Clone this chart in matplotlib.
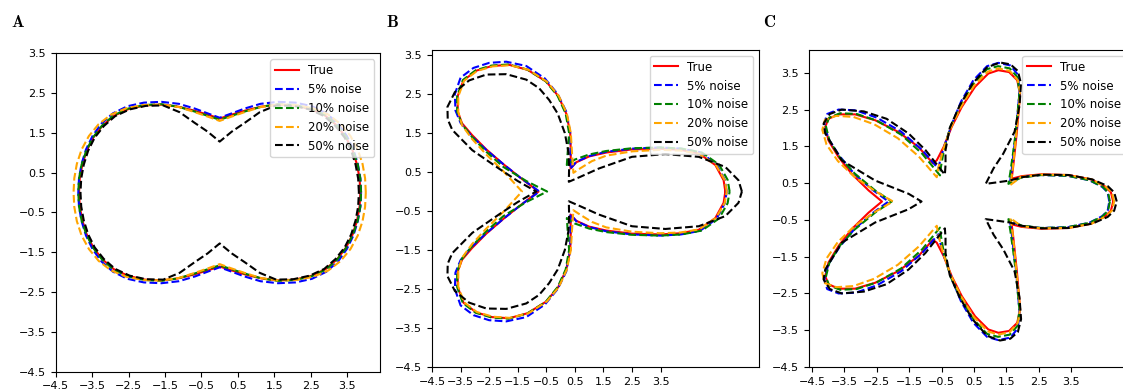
import numpy as np
import matplotlib.pyplot as plt

labels = ["True", "5% noise", "10% noise", "20% noise", "50% noise"]
colors = ["red", "blue", "green", "orange", "black"]
styles = ["-", "--", "--", "--", "--"]

# panel A: upper-right quarter of each curve, from the right end to the top dip
a_true_x = [3.86, 3.84, 3.77, 3.65, 3.47, 3.22, 2.90, 2.50, 2.05, 1.60, 1.15, 0.70, 0.30, 0.00]
a_true_y = [0.00, 0.35, 0.70, 1.05, 1.38, 1.68, 1.93, 2.10, 2.19, 2.21, 2.16, 2.06, 1.95, 1.86]
a_5_x = [3.88, 3.86, 3.79, 3.67, 3.49, 3.25, 2.93, 2.53, 2.08, 1.60, 1.12, 0.68, 0.30, 0.00]
a_5_y = [0.00, 0.36, 0.72, 1.08, 1.42, 1.73, 1.99, 2.17, 2.26, 2.28, 2.23, 2.11, 1.98, 1.88]
a_10_x = [3.88, 3.86, 3.79, 3.66, 3.48, 3.23, 2.91, 2.51, 2.06, 1.60, 1.15, 0.70, 0.30, 0.00]
a_10_y = [0.00, 0.35, 0.70, 1.05, 1.38, 1.68, 1.94, 2.11, 2.20, 2.22, 2.16, 2.04, 1.92, 1.83]
a_20_x = [4.01, 3.99, 3.92, 3.79, 3.59, 3.32, 2.98, 2.56, 2.09, 1.60, 1.13, 0.68, 0.30, 0.00]
a_20_y = [0.00, 0.36, 0.72, 1.08, 1.42, 1.72, 1.96, 2.12, 2.20, 2.21, 2.15, 2.02, 1.90, 1.80]
a_50_x = [3.82, 3.80, 3.73, 3.61, 3.43, 3.18, 2.87, 2.47, 2.02, 1.55, 1.10, 0.70, 0.33, 0.00]
a_50_y = [0.00, 0.35, 0.70, 1.05, 1.38, 1.67, 1.92, 2.09, 2.18, 2.19, 2.02, 1.76, 1.53, 1.28]

# panel B: upper half, from the right tip round to the left cusp
b_true_x = [5.77, 5.71, 5.42, 4.84, 4.20, 3.50, 2.50, 1.60, 1.00, 0.55, 0.35, 0.36, 0.34, 0.20, -0.08,
            -0.50, -1.15, -1.80, -2.40, -2.95, -3.40, -3.60, -3.60, -3.45, -3.10, -2.60, -2.00, -1.40, -0.77]
b_true_y = [0.00, 0.29, 0.68, 0.98, 1.07, 1.10, 1.08, 1.00, 0.90, 0.75, 0.59, 1.00, 1.50, 2.00, 2.45,
            2.82, 3.12, 3.25, 3.22, 3.10, 2.85, 2.45, 2.05, 1.75, 1.45, 1.08, 0.70, 0.35, 0.00]
b_5_x = [5.82, 5.75, 5.46, 4.88, 4.22, 3.50, 2.50, 1.60, 1.00, 0.55, 0.34, 0.35, 0.34, 0.20, -0.10,
         -0.55, -1.20, -1.90, -2.50, -3.05, -3.50, -3.70, -3.68, -3.50, -3.15, -2.62, -2.00, -1.40, -0.74]
b_5_y = [0.00, 0.30, 0.70, 1.01, 1.10, 1.13, 1.10, 1.02, 0.91, 0.76, 0.58, 1.00, 1.50, 2.05, 2.50,
         2.90, 3.22, 3.33, 3.30, 3.17, 2.92, 2.50, 2.08, 1.76, 1.45, 1.08, 0.70, 0.35, 0.00]
b_10_x = [5.92, 5.85, 5.55, 4.95, 4.25, 3.50, 2.50, 1.60, 1.00, 0.50, 0.22, 0.25, 0.30, 0.18, -0.10,
          -0.52, -1.17, -1.82, -2.42, -2.97, -3.42, -3.62, -3.62, -3.45, -3.10, -2.60, -2.00, -1.20, -0.47]
b_10_y = [0.00, 0.30, 0.69, 1.00, 1.10, 1.13, 1.11, 1.04, 0.95, 0.82, 0.68, 1.00, 1.50, 2.00, 2.45,
          2.83, 3.13, 3.26, 3.23, 3.11, 2.86, 2.45, 2.05, 1.72, 1.40, 1.02, 0.63, 0.27, 0.00]
b_20_x = [5.82, 5.75, 5.45, 4.86, 4.20, 3.50, 2.50, 1.60, 1.10, 0.70, 0.45, 0.40, 0.36, 0.22, -0.06,
          -0.48, -1.12, -1.78, -2.38, -2.93, -3.38, -3.58, -3.58, -3.45, -3.10, -2.60, -2.00, -1.35]
b_20_y = [0.00, 0.29, 0.67, 0.97, 1.05, 1.07, 1.03, 0.92, 0.78, 0.60, 0.48, 1.00, 1.50, 2.00, 2.45,
          2.82, 3.12, 3.24, 3.21, 3.09, 2.84, 2.44, 2.04, 1.70, 1.35, 0.95, 0.52, 0.00]
b_50_x = [6.35, 6.23, 5.77, 4.84, 3.67, 2.50, 1.34, 0.70, 0.29, 0.30, 0.28, 0.15, -0.10, -0.40,
          -0.75, -1.20, -1.90, -2.60, -3.20, -3.70, -3.96, -3.95, -3.79, -3.09, -2.16, -1.50, -0.85]
b_50_y = [0.00, 0.29, 0.63, 0.89, 0.96, 0.89, 0.59, 0.38, 0.25, 0.60, 1.00, 1.50, 2.00, 2.35,
          2.65, 2.87, 3.01, 3.00, 2.85, 2.55, 2.17, 1.85, 1.58, 1.06, 0.59, 0.27, 0.00]

# panel C: upper half, from the right tip round to the left cusp
c_true_x = [4.79, 4.72, 4.55, 4.12, 3.41, 2.58, 1.97, 1.66, 1.70, 1.76, 1.82, 1.87, 1.92, 1.83, 1.58, 1.25, 0.94, 0.53,
            0.12, -0.19, -0.44, -0.65, -0.77, -1.21, -1.83, -2.55, -3.17, -3.68, -3.99, -4.09, -3.99, -3.68, -3.27, -2.75, -2.34]
c_true_y = [0.00, 0.25, 0.40, 0.60, 0.72, 0.74, 0.69, 0.62, 0.90, 1.39, 1.90, 2.40, 2.94, 3.30, 3.52, 3.57, 3.48, 3.12,
            2.57, 2.03, 1.48, 1.12, 1.04, 1.48, 1.89, 2.21, 2.37, 2.37, 2.25, 2.03, 1.66, 1.21, 0.75, 0.30, 0.00]
c_5_x = [4.67, 4.62, 4.45, 4.05, 3.38, 2.55, 1.95, 1.61, 1.66, 1.72, 1.80, 1.85, 1.90, 1.85, 1.62, 1.25, 0.90, 0.48,
         0.10, -0.18, -0.40, -0.55, -0.60, -1.10, -1.75, -2.50, -3.15, -3.68, -4.03, -4.12, -4.00, -3.65, -3.20, -2.65, -2.14]
c_5_y = [0.00, 0.25, 0.40, 0.58, 0.70, 0.72, 0.66, 0.53, 0.85, 1.35, 1.90, 2.45, 3.00, 3.45, 3.70, 3.77, 3.68, 3.30,
         2.72, 2.12, 1.55, 1.10, 0.89, 1.40, 1.90, 2.28, 2.48, 2.50, 2.38, 2.13, 1.72, 1.24, 0.76, 0.33, 0.00]
c_10_x = [4.69, 4.63, 4.47, 4.06, 3.38, 2.56, 1.95, 1.56, 1.62, 1.70, 1.78, 1.84, 1.90, 1.84, 1.60, 1.24, 0.90, 0.48,
          0.08, -0.22, -0.42, -0.52, -0.55, -1.10, -1.75, -2.50, -3.12, -3.63, -3.97, -4.07, -3.96, -3.64, -3.18, -2.55, -2.04]
c_10_y = [0.00, 0.25, 0.40, 0.58, 0.70, 0.72, 0.65, 0.48, 0.80, 1.30, 1.85, 2.40, 2.95, 3.38, 3.62, 3.68, 3.60, 3.20,
          2.60, 2.05, 1.45, 0.95, 0.71, 1.30, 1.82, 2.20, 2.38, 2.40, 2.28, 2.05, 1.66, 1.20, 0.76, 0.30, 0.00]
c_20_x = [4.82, 4.75, 4.57, 4.13, 3.40, 2.57, 1.95, 1.62, 1.68, 1.74, 1.80, 1.86, 1.92, 1.85, 1.60, 1.25, 0.92, 0.50,
          0.10, -0.22, -0.45, -0.60, -0.65, -1.20, -1.85, -2.58, -3.22, -3.75, -4.10, -4.18, -4.05, -3.70, -3.20, -2.55, -2.00]
c_20_y = [0.00, 0.25, 0.40, 0.60, 0.72, 0.73, 0.67, 0.45, 0.80, 1.30, 1.85, 2.38, 2.92, 3.30, 3.55, 3.62, 3.53, 3.15,
          2.58, 2.00, 1.42, 0.92, 0.66, 1.22, 1.72, 2.10, 2.30, 2.33, 2.22, 1.95, 1.55, 1.10, 0.68, 0.28, 0.00]
c_50_x = [4.90, 4.82, 4.62, 4.15, 3.42, 2.58, 1.97, 1.60, 1.20, 0.86, 1.10, 1.40, 1.75, 1.90, 1.95, 1.85, 1.62, 1.30,
          0.90, 0.45, 0.05, -0.25, -0.38, -0.38, -0.40, -1.00, -1.52, -2.20, -2.90, -3.58, -3.95, -4.14, -4.09,
          -3.58, -2.55, -1.52, -1.12]
c_50_y = [0.00, 0.25, 0.42, 0.60, 0.72, 0.73, 0.66, 0.57, 0.52, 0.48, 0.90, 1.30, 1.90, 2.60, 3.20, 3.55, 3.73, 3.78,
          3.65, 3.20, 2.60, 2.00, 1.40, 1.00, 0.73, 1.40, 1.85, 2.25, 2.45, 2.50, 2.38, 2.12, 1.85,
          1.12, 0.57, 0.21, 0.00]

panels = [
    ("A", [(a_true_x, a_true_y), (a_5_x, a_5_y), (a_10_x, a_10_y), (a_20_x, a_20_y), (a_50_x, a_50_y)],
     True, (-4.5, 4.4), (-4.5, 3.5), [0.0496, 0.0474, 0.2888, 0.8159], 0.010),
    ("B", [(b_true_x, b_true_y), (b_5_x, b_5_y), (b_10_x, b_10_y), (b_20_x, b_20_y), (b_50_x, b_50_y)],
     False, (-4.5, 6.95), (-4.5, 3.63), [0.3847, 0.0590, 0.2912, 0.8128], 0.344),
    ("C", [(c_true_x, c_true_y), (c_5_x, c_5_y), (c_10_x, c_10_y), (c_20_x, c_20_y), (c_50_x, c_50_y)],
     False, (-4.59, 5.37), (-4.5, 4.12), [0.7204, 0.0590, 0.2876, 0.8128], 0.679),
]


def closed_curve(x, y, quarter):
    x = np.asarray(x, float)
    y = np.asarray(y, float)
    if quarter:
        x = np.concatenate([x, -x[::-1][1:]])
        y = np.concatenate([y, y[::-1][1:]])
    xs = np.concatenate([x, x[::-1][1:]])
    ys = np.concatenate([y, -y[::-1][1:]])
    return xs, ys


fig = plt.figure(figsize=(11.23, 3.9), dpi=100)

for letter, curves, quarter, xlim, ylim, rect, lx in panels:
    ax = fig.add_axes(rect)
    for (cx, cy), lab, col, ls in zip(curves, labels, colors, styles):
        xs, ys = closed_curve(cx, cy, quarter)
        ax.plot(xs, ys, color=col, linestyle=ls, linewidth=1.5, label=lab)
    ax.set_xticks(np.arange(-4.5, 4, 1))
    ax.set_yticks(np.arange(-4.5, 4, 1))
    ax.set_xlim(*xlim)
    ax.set_ylim(*ylim)
    ax.tick_params(labelsize=8)
    ax.legend(loc="upper right", fontsize=8.5)
    fig.text(lx, 0.93, r"$\mathbf{%s}$" % letter, fontsize=12, math_fontfamily="cm")

fig.savefig("out.png", dpi=100)
